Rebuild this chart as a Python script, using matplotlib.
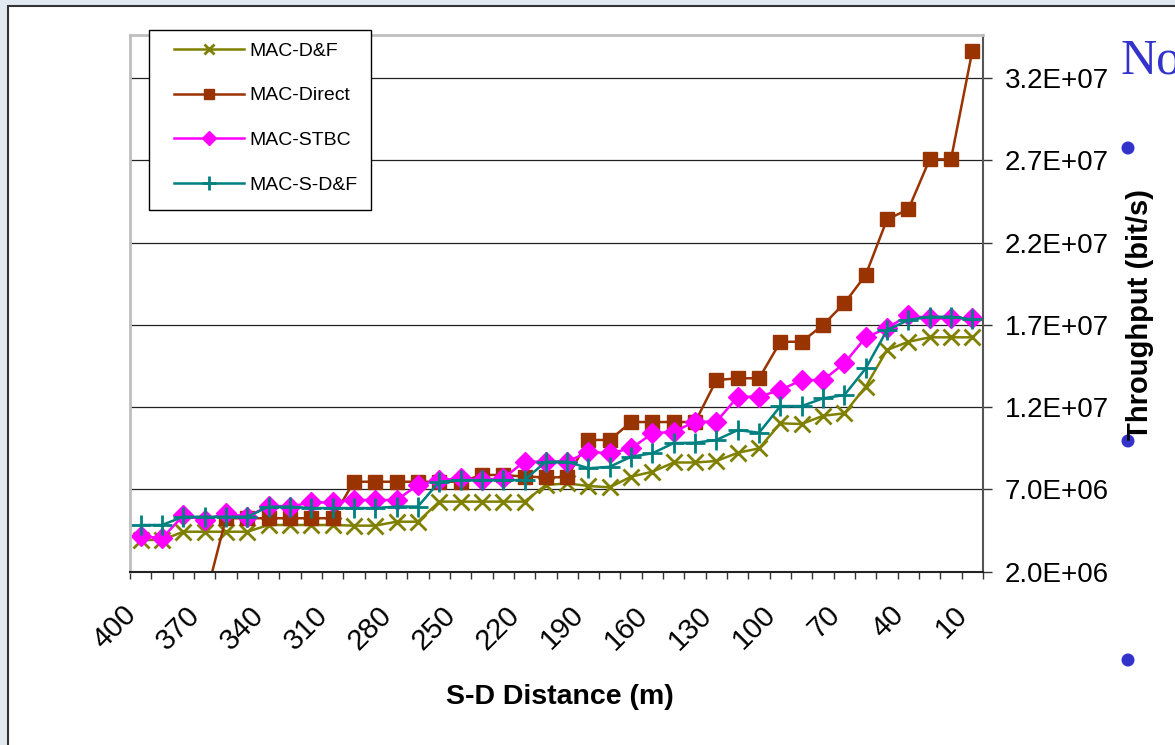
import matplotlib
matplotlib.use("Agg")
import matplotlib.pyplot as plt
import matplotlib.transforms as mtransforms
from matplotlib.patches import Rectangle, Ellipse
import numpy as np

plt.rcParams['font.family'] = ['Liberation Sans', 'DejaVu Sans']

# ---------------- data ----------------
distances = [400, 390, 380, 370, 360, 350, 340, 330, 320, 310,
             300, 290, 280, 270, 260, 250, 240, 230, 220, 210,
             200, 190, 180, 170, 160, 150, 140, 130, 120, 110,
             100, 90, 80, 70, 60, 50, 40, 30, 20, 10]

# throughput in Mbit/s
mac_df = [3.93, 3.93, 4.43, 4.43, 4.43, 4.43, 4.84, 4.84, 4.84, 4.84,
          4.80, 4.80, 5.04, 5.04, 6.26, 6.26, 6.26, 6.26, 6.26, 7.27,
          7.37, 7.21, 7.13, 7.78, 8.08, 8.64, 8.64, 8.73, 9.23, 9.50,
          11.02, 10.98, 11.48, 11.63, 13.25, 15.48, 15.98, 16.25, 16.25, 16.25]

mac_direct = [0.0, 0.0, 0.0, 0.2, 5.25, 5.25, 5.25, 5.25, 5.25, 5.25,
              7.47, 7.47, 7.47, 7.47, 7.47, 7.47, 7.88, 7.88, 7.78, 7.74,
              7.74, 10.01, 10.01, 11.10, 11.10, 11.10, 11.10, 13.65, 13.76, 13.76,
              15.98, 15.98, 17.00, 18.32, 20.04, 23.42, 24.03, 27.07, 27.07, 33.67]

mac_stbc = [4.17, 4.03, 5.42, 5.14, 5.55, 5.33, 6.02, 5.96, 6.21, 6.21,
            6.36, 6.36, 6.36, 7.27, 7.57, 7.68, 7.57, 7.68, 8.69, 8.69,
            8.69, 9.29, 9.20, 9.50, 10.41, 10.51, 11.12, 11.12, 12.64, 12.64,
            13.05, 13.65, 13.65, 14.67, 16.25, 16.80, 17.61, 17.40, 17.40, 17.40]

mac_sdf = [4.84, 4.84, 5.34, 5.34, 5.34, 5.34, 5.95, 5.95, 5.87, 5.87,
           5.87, 5.87, 5.96, 5.96, 7.47, 7.57, 7.57, 7.57, 7.57, 8.69,
           8.69, 8.29, 8.38, 8.99, 9.20, 9.82, 9.84, 10.01, 10.61, 10.45,
           12.07, 12.07, 12.54, 12.74, 14.36, 16.69, 17.30, 17.50, 17.50, 17.34]

series_names = ["MAC-D&F", "MAC-Direct", "MAC-STBC", "MAC-S-D&F"]
y_ticks = [2.0e6, 7.0e6, 1.2e7, 1.7e7, 2.2e7, 2.7e7, 3.2e7]
y_tick_labels = ["2.0E+06", "7.0E+06", "1.2E+07", "1.7E+07", "2.2E+07", "2.7E+07", "3.2E+07"]
x_title = "S-D Distance (m)"
y_title = "Throughput (bit/s)"

# ---------------- figure ----------------
W, H = 1175, 745
fig = plt.figure(figsize=(W / 100, H / 100), dpi=100)
fig.patch.set_facecolor('#e3e9f1')

outer = Rectangle((8 / W, -0.05), 1.2, 1 - 6 / H + 0.05, transform=fig.transFigure,
                  fc='white', ec='#333333', lw=1.5, zorder=-1)
fig.add_artist(outer)

ax = fig.add_axes([130 / W, 1 - 571.7 / H, (983 - 130) / W, (571.7 - 35) / H])
ax.set_facecolor('white')

x = np.arange(len(distances))
styles = [
    dict(color='#808000', marker='x', ms=11, mew=2.0),
    dict(color='#993300', marker='s', ms=10, mew=1.0),
    dict(color='#FF00FF', marker='D', ms=10, mew=1.0),
    dict(color='#008080', marker='+', ms=14, mew=2.0),
]
data = [mac_df, mac_direct, mac_stbc, mac_sdf]
handles = []
for vals, name, st in zip(data, series_names, styles):
    h, = ax.plot(x, np.array(vals) * 1e6, lw=1.8, label=name,
                 mfc=st['color'], mec=st['color'], **st)
    handles.append(h)

ax.set_xlim(-0.5, len(distances) - 0.5)
ax.set_ylim(2.0e6, 34.63e6)

# y axis on the right
ax.yaxis.tick_right()
ax.set_yticks(y_ticks)
ax.set_yticklabels(y_tick_labels)
ax.tick_params(axis='y', direction='out', length=6.5, width=1.0, color='#333333',
               pad=9, labelsize=20)
ax.yaxis.grid(True, color='#222222', lw=0.9)
ax.set_axisbelow(True)

# x axis: category ticks between categories, labels every 3rd
major_idx = [i for i in x if i % 3 == 0]
ax.set_xticks(major_idx)
ax.set_xticklabels([str(distances[i]) for i in major_idx])
ax.set_xticks(np.arange(-0.5, len(distances), 1.0), minor=True)
ax.tick_params(axis='x', which='major', length=0, pad=28, labelsize=21)
ax.tick_params(axis='x', which='minor', direction='out', length=5, width=1.0, color='#333333')
offset = mtransforms.ScaledTranslation(-9 / 100, 0, fig.dpi_scale_trans)
for lbl in ax.get_xticklabels():
    lbl.set_rotation(45)
    lbl.set_ha('right')
    lbl.set_va('center')
    lbl.set_rotation_mode('anchor')
    lbl.set_transform(lbl.get_transform() + offset)

for side in ['left', 'top']:
    ax.spines[side].set_color('#bfbfbf')
    ax.spines[side].set_linewidth(2.0)
ax.spines['right'].set_color('#555555')
ax.spines['right'].set_linewidth(1.5)
ax.spines['bottom'].set_color('#222222')
ax.spines['bottom'].set_linewidth(1.5)

# legend
box = Rectangle((149 / W, 1 - 210 / H), 222 / W, 180 / H, transform=fig.transFigure,
                fc='white', ec='black', lw=1.0, zorder=4)
fig.add_artist(box)
leg = fig.legend(handles, series_names, loc='upper left',
                 bbox_to_anchor=(174 / W, 1 - 42 / H), frameon=False,
                 borderpad=0, borderaxespad=0, handlelength=3.6, handletextpad=0.3,
                 labelspacing=1.4, fontsize=14, markerscale=0.7)
leg.set_zorder(5)

# titles
fig.text(560 / W, 1 - 697 / H, x_title, ha='center', va='center',
         fontsize=20.5, fontweight='bold')

# slide decorations behind the chart text
for by in [148, 441, 660]:
    fig.add_artist(Ellipse((1128 / W, 1 - by / H), 13 / W, 13 / H,
                           transform=fig.transFigure, fc='#3333CC', ec='none', zorder=5))
fig.text(1120 / W, 1 - 73 / H, "No", family='Liberation Serif', fontsize=36,
         color='#3333CC', ha='left', va='baseline')

fig.text(1140 / W, 1 - 315 / H, y_title, rotation=90, ha='center', va='center',
         fontsize=21, fontweight='bold', zorder=6)

fig.savefig('out.png', dpi=100, facecolor=fig.get_facecolor())
